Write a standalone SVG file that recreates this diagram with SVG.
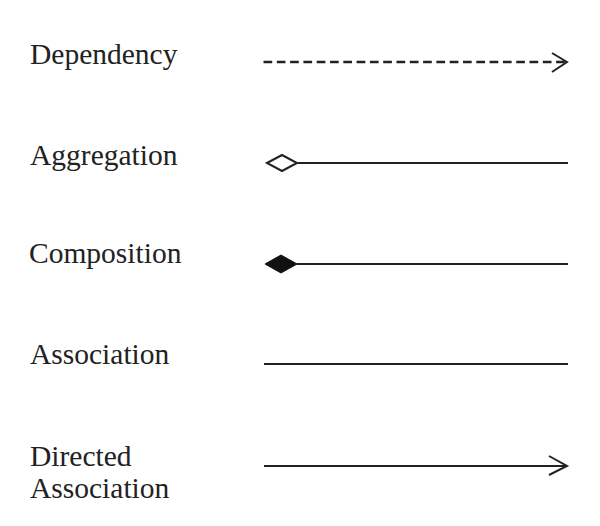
<svg xmlns="http://www.w3.org/2000/svg" width="600" height="526" viewBox="0 0 600 526">
<style>
.lbl{font-family:"Liberation Serif","Times New Roman",serif;font-size:29.5px;fill:#222}
.ln{stroke:#222;stroke-width:2;fill:none}
.dash{stroke-dasharray:8.7 4.6;stroke-width:2.4}
</style>
<rect width="600" height="526" fill="#fff"/>
<g id="dependency"><text class="lbl" x="30" y="64">Dependency</text></g>
<g id="aggregation"><text class="lbl" x="30" y="165">Aggregation</text></g>
<g id="composition"><text class="lbl" x="29" y="263">Composition</text></g>
<g id="association"><text class="lbl" x="30" y="364">Association</text></g>
<g id="directed-association"><text class="lbl" x="30" y="466">Directed</text><text class="lbl" x="30" y="498">Association</text></g>
<g id="connectors">
<line class="ln dash" x1="263.5" y1="62" x2="566" y2="62"/>
<polyline class="ln" points="552,53 567,62 552,72" stroke-width="2.3"/>
<line class="ln" x1="297" y1="163" x2="568" y2="163"/>
<polygon class="ln" points="267,163 282,155 297,163 282,171" fill="#fff"/>
<line class="ln" x1="297" y1="264" x2="568" y2="264"/>
<polygon points="265,264 281,255 297,264 281,273" fill="#111" stroke="#111" stroke-width="1"/>
<line class="ln" x1="264" y1="364" x2="568" y2="364"/>
<line class="ln" x1="264" y1="466" x2="566" y2="466"/>
<polyline class="ln" points="549,456 567,466 549,475"/>
</g>
</svg>
